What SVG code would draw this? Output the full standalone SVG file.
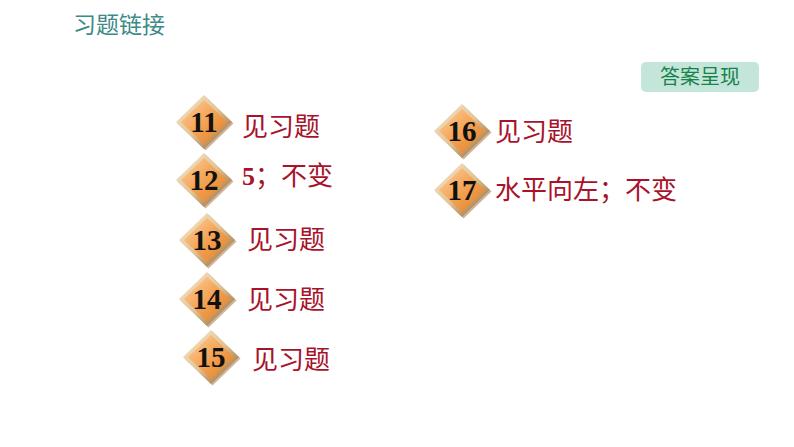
<svg xmlns="http://www.w3.org/2000/svg" xmlns:xlink="http://www.w3.org/1999/xlink" width="794" height="447" viewBox="0 0 794 447">
<defs>
<linearGradient id="og" x1="0" y1="0" x2="1" y2="1">
<stop offset="0" stop-color="#fbd3a4"/>
<stop offset="0.45" stop-color="#f5a75a"/>
<stop offset="1" stop-color="#e07c22"/>
</linearGradient>
<linearGradient id="rim" x1="0" y1="0" x2="1" y2="1">
<stop offset="0" stop-color="#f6e6cc"/>
<stop offset="0.5" stop-color="#e3c596"/>
<stop offset="1" stop-color="#8a5a2a"/>
</linearGradient>
<g id="dia">
<path d="M0,-27 L28,0 L0,27 L-28,0 Z" fill="#b08050" transform="translate(1.5,1.5)" opacity="0.6"/>
<path d="M0,-27 L28,0 L0,27 L-28,0 Z" fill="url(#rim)"/>
<path d="M0,-22 L23,0 L0,22 L-23,0 Z" fill="url(#og)"/>
</g>
</defs>
<style>
.num{font-family:"Liberation Serif",serif;font-weight:bold;font-size:29px;fill:#111;text-anchor:middle}
.ans{font-family:"Noto Sans CJK SC","Liberation Serif",serif;font-size:26px;fill:#a8122a}
.ansb{font-family:"Liberation Serif","Noto Sans CJK SC",serif;font-weight:bold}
.title{font-family:"Noto Sans CJK SC",sans-serif;font-size:23px;fill:#3d8a88}
.btn{font-family:"Noto Sans CJK SC",sans-serif;font-size:20px;fill:#17834a;text-anchor:middle}
</style>
<rect width="794" height="447" fill="#ffffff"/>
<text class="title" x="73" y="33">习题链接</text>
<g id="btn-answers">
<rect x="641" y="62" width="118" height="30" rx="5" fill="#c3e5da"/>
<text class="btn" x="700" y="84">答案呈现</text>
</g>
<g id="connectors"></g>
<g id="q11"><use xlink:href="#dia" x="204" y="122"/><text class="num" x="204" y="132">11</text><text class="ans" x="242" y="136">见习题</text></g>
<g id="q12"><use xlink:href="#dia" x="204" y="180"/><text class="num" x="204" y="190">12</text><text class="ans" x="242" y="185"><tspan class="ansb">5</tspan>；不变</text></g>
<g id="q13"><use xlink:href="#dia" x="207" y="240"/><text class="num" x="207" y="250">13</text><text class="ans" x="247" y="249">见习题</text></g>
<g id="q14"><use xlink:href="#dia" x="207" y="299"/><text class="num" x="207" y="309">14</text><text class="ans" x="247" y="309">见习题</text></g>
<g id="q15"><use xlink:href="#dia" x="211" y="357"/><text class="num" x="211" y="367">15</text><text class="ans" x="252" y="369">见习题</text></g>
<g id="q16"><use xlink:href="#dia" x="462" y="131"/><text class="num" x="462" y="141">16</text><text class="ans" x="495" y="141">见习题</text></g>
<g id="q17"><use xlink:href="#dia" x="462" y="190"/><text class="num" x="462" y="200">17</text><text class="ans" x="495" y="199">水平向左；不变</text></g>
</svg>
